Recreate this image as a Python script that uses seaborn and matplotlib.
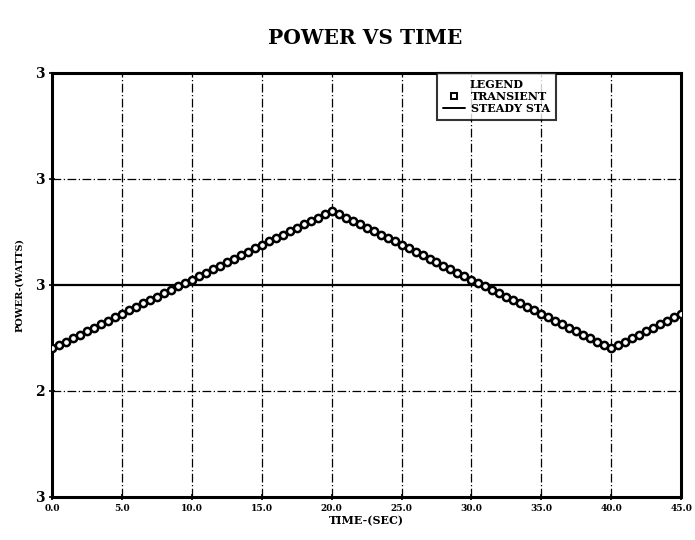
import numpy as np
import pandas as pd
import matplotlib
matplotlib.use("Agg")
import matplotlib.pyplot as plt
from matplotlib.lines import Line2D
import seaborn as sns

# Sample times (s) and transient power (W)
time_sec = [
    0.0, 0.5, 1.0, 1.5, 2.0, 2.5, 3.0, 3.5, 4.0, 4.5,
    5.0, 5.5, 6.0, 6.5, 7.0, 7.5, 8.0, 8.5, 9.0, 9.5,
    10.0, 10.5, 11.0, 11.5, 12.0, 12.5, 13.0, 13.5, 14.0, 14.5,
    15.0, 15.5, 16.0, 16.5, 17.0, 17.5, 18.0, 18.5, 19.0, 19.5,
    20.0, 20.5, 21.0, 21.5, 22.0, 22.5, 23.0, 23.5, 24.0, 24.5,
    25.0, 25.5, 26.0, 26.5, 27.0, 27.5, 28.0, 28.5, 29.0, 29.5,
    30.0, 30.5, 31.0, 31.5, 32.0, 32.5, 33.0, 33.5, 34.0, 34.5,
    35.0, 35.5, 36.0, 36.5, 37.0, 37.5, 38.0, 38.5, 39.0, 39.5,
    40.0, 40.5, 41.0, 41.5, 42.0, 42.5, 43.0, 43.5, 44.0, 44.5,
    45.0,
]
transient_power = [
    2.880, 2.887, 2.893, 2.900, 2.906, 2.913, 2.919, 2.926, 2.932, 2.939,
    2.945, 2.952, 2.958, 2.965, 2.971, 2.978, 2.984, 2.991, 2.997, 3.004,
    3.010, 3.017, 3.023, 3.030, 3.036, 3.043, 3.049, 3.056, 3.062, 3.069,
    3.075, 3.082, 3.088, 3.095, 3.101, 3.108, 3.114, 3.121, 3.127, 3.134,
    3.140, 3.134, 3.127, 3.121, 3.114, 3.108, 3.101, 3.095, 3.088, 3.082,
    3.075, 3.069, 3.062, 3.056, 3.049, 3.043, 3.036, 3.030, 3.023, 3.017,
    3.010, 3.004, 2.997, 2.991, 2.984, 2.978, 2.971, 2.965, 2.958, 2.952,
    2.945, 2.939, 2.932, 2.926, 2.919, 2.913, 2.906, 2.900, 2.893, 2.887,
    2.880, 2.887, 2.893, 2.900, 2.906, 2.913, 2.919, 2.926, 2.932, 2.939,
    2.945,
]
steady_state = 3.0

x_ticks = [0, 5, 10, 15, 20, 25, 30, 35, 40, 45]
x_tick_labels = ["0.0", "5.0", "10.0", "15.0", "20.0", "25.0", "30.0", "35.0", "40.0", "45.0"]
y_ticks = [2.6, 2.8, 3.0, 3.2, 3.4]
y_tick_labels = ["3", "2", "3", "3", "3"]

df = pd.DataFrame({"time": time_sec, "power": transient_power})

sns.set_theme(style="white")
plt.rcParams["font.family"] = ["DejaVu Serif"]
plt.rcParams["font.weight"] = "bold"
for key in ["text.color", "axes.labelcolor", "xtick.color", "ytick.color"]:
    plt.rcParams[key] = "black"

fig = plt.figure(figsize=(6.95, 5.40), dpi=100)
ax = fig.add_axes([0.075, 0.080, 0.905, 0.785])

# Grid: dash-dot reference lines
for xv in x_ticks[1:-1]:
    ax.axvline(xv, color="black", lw=0.9, ls=(0, (7, 2, 1, 2)), zorder=1)
for yv in [2.8, 3.2]:
    ax.axhline(yv, color="black", lw=0.9, ls=(0, (7, 2, 1, 2)), zorder=1)

# Steady-state line
ax.axhline(steady_state, color="black", lw=1.6, zorder=2)

sns.lineplot(data=df, x="time", y="power", ax=ax, color="black", lw=1.4,
             marker="o", markersize=5.2, markerfacecolor="white",
             markeredgecolor="black", markeredgewidth=1.8, zorder=3,
             legend=False)

ax.set_xlim(0, 45)
ax.set_ylim(2.6, 3.4)
ax.set_xticks(x_ticks)
ax.set_xticklabels(x_tick_labels, fontsize=6.5, fontweight="bold")
ax.set_yticks(y_ticks)
ax.set_yticklabels(y_tick_labels, fontsize=10, fontweight="bold")
ax.tick_params(axis="both", direction="inout", length=5, width=1.2,
               color="black", pad=3, bottom=True, left=True)

for s in ax.spines.values():
    s.set_color("black")
    s.set_linewidth(2.2)

ax.set_xlabel("TIME-(SEC)", fontsize=8, fontweight="bold", labelpad=1)
ax.set_ylabel("POWER-(WATTS)", fontsize=7, fontweight="bold", labelpad=8)
fig.text(0.525, 0.93, "POWER VS TIME", ha="center", va="center",
         fontsize=14.5, fontweight="bold")

handles = [
    Line2D([], [], ls="none", marker="s", markersize=4.5, markerfacecolor="white",
           markeredgecolor="black", markeredgewidth=1.4),
    Line2D([], [], color="black", lw=1.4),
]
leg = ax.legend(handles, ["TRANSIENT", "STEADY STA"], title="LEGEND",
                loc="upper left", bbox_to_anchor=(0.612, 1.0),
                fontsize=8, title_fontsize=8, frameon=True, fancybox=False,
                borderpad=0.55, handlelength=2.0, handletextpad=0.5,
                labelspacing=0.1, borderaxespad=0)
leg.get_frame().set_edgecolor("black")
leg.get_frame().set_linewidth(1.5)
for t in leg.get_texts():
    t.set_fontweight("bold")
leg.get_title().set_fontweight("bold")

fig.savefig("out.png", dpi=100, facecolor="white")
